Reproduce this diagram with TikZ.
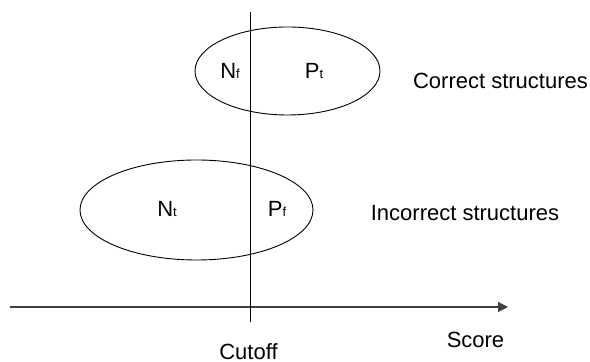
\documentclass[tikz,border=0pt]{standalone}
\usepackage{fontspec}
\setmainfont{Liberation Sans}
\usetikzlibrary{arrows.meta,shapes.geometric}

\newcommand{\lowsub}[1]{{\fontsize{6.5}{7}\selectfont #1}}

\tikzset{
  region/.style={draw=black, ellipse, line width=0.45pt, inner sep=0pt},
  txt/.style={font=\fontsize{11}{13}\selectfont, inner sep=0pt},
}

\begin{document}
\begin{tikzpicture}[x=0.5pt,y=-0.5pt]
  \useasboundingbox (0,0) rectangle (590,362);

  % Score axis and cutoff line
  \coordinate (axisstart) at (10,307);
  \coordinate (axisend) at (508,307);
  \coordinate (cuttop) at (250,12);
  \coordinate (cutbot) at (250,322);
  \draw[line width=0.6pt, black!75, -{Triangle[length=5pt,width=5pt]}] (axisstart) -- (axisend);
  \draw[line width=0.5pt] (cuttop) -- (cutbot);

  % Correct structures
  \node[region, minimum width=92.5pt, minimum height=44pt] (correct) at (287.5,71) {};
  \node[txt] (nf) at (230,71) {N\lowsub{f}};
  \node[txt] (pt) at (314,71) {P\lowsub{t}};
  \node[txt] (correctlbl) at (500.5,81) {Correct structures};

  % Incorrect structures
  \node[region, minimum width=116.5pt, minimum height=50pt] (incorrect) at (196.5,210) {};
  \node[txt] (nt) at (167,209) {N\lowsub{t}};
  \node[txt] (pf) at (277,209) {P\lowsub{f}};
  \node[txt] (incorrectlbl) at (465,213) {Incorrect structures};

  % Axis labels
  \node[txt] (score) at (475.5,340) {Score};
  \node[txt] (cutoff) at (248.5,352) {Cutoff};
\end{tikzpicture}
\end{document}
